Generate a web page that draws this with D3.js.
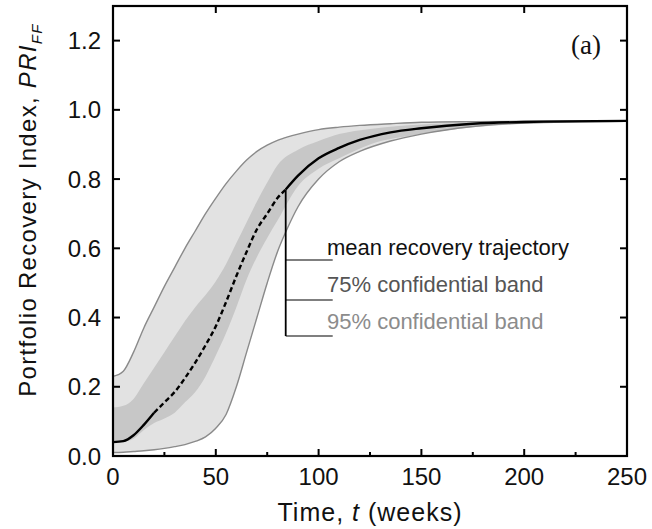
<!DOCTYPE html>
<html><head>
<meta charset="utf-8">
<script src="https://d3js.org/d3.v7.min.js"></script>
<style>
  body { margin: 0; background: white; }
  text { font-family: "Liberation Sans", Arial, sans-serif; }
</style>
</head><body>
<svg id="chart" width="652" height="529"></svg>
<script>
// time points (weeks) for each curve
const tMean  = [0, 5, 10, 15, 20, 25, 30, 35, 40, 45, 50, 55, 60, 65, 70, 75, 80, 84, 90, 100, 110, 120, 135, 150, 175, 200, 250];
const mean   = [0.04, 0.043, 0.06, 0.09, 0.125, 0.155, 0.185, 0.225, 0.27, 0.32, 0.375, 0.445, 0.52, 0.59, 0.655, 0.70, 0.745, 0.77, 0.81, 0.86, 0.89, 0.913, 0.935, 0.947, 0.96, 0.965, 0.968];

const t95     = [0, 5, 10, 15, 20, 25, 30, 35, 40, 45, 50, 55, 60, 65, 70, 75, 80, 85, 90, 100, 110, 120, 135, 150, 175, 200, 250];
const upper95 = [0.23, 0.245, 0.30, 0.37, 0.43, 0.49, 0.545, 0.60, 0.65, 0.70, 0.745, 0.787, 0.823, 0.855, 0.88, 0.898, 0.912, 0.922, 0.93, 0.943, 0.95, 0.955, 0.96, 0.964, 0.966, 0.967, 0.968];
const lower95 = [0.01, 0.011, 0.013, 0.015, 0.018, 0.022, 0.027, 0.033, 0.042, 0.055, 0.08, 0.12, 0.20, 0.30, 0.40, 0.50, 0.59, 0.66, 0.72, 0.80, 0.85, 0.88, 0.91, 0.93, 0.952, 0.962, 0.967];

const t75     = [0, 5, 10, 15, 20, 25, 30, 35, 40, 45, 50, 55, 60, 65, 70, 75, 80, 90, 100, 110, 125, 150, 175, 200, 250];
const upper75 = [0.14, 0.145, 0.165, 0.21, 0.255, 0.30, 0.345, 0.39, 0.43, 0.465, 0.505, 0.555, 0.615, 0.675, 0.735, 0.79, 0.84, 0.885, 0.91, 0.93, 0.945, 0.958, 0.963, 0.966, 0.968];
const lower75 = [0.04, 0.042, 0.05, 0.075, 0.095, 0.108, 0.125, 0.155, 0.185, 0.23, 0.29, 0.355, 0.43, 0.51, 0.575, 0.63, 0.68, 0.78, 0.83, 0.86, 0.90, 0.93, 0.95, 0.96, 0.967];

const xMajor = [0, 50, 100, 150, 200, 250];
const xMinor = [25, 75, 125, 175, 225];
const yMajor = [0, 0.2, 0.4, 0.6, 0.8, 1.0, 1.2];
const legendLabels = ["mean recovery trajectory", "75% confidential band", "95% confidential band"];

let svg = d3.select("svg#chart");
const pLeft = 113, pRight = 627, pTop = 6, pBottom = 456;

let x = d3.scaleLinear().domain([0, 250]).range([pLeft, pRight]);
let y = d3.scaleLinear().domain([0, 1.3]).range([pBottom, pTop]);

let band95 = t95.map((t, i) => ({t: t, lo: lower95[i], hi: upper95[i]}));
let band75 = t75.map((t, i) => ({t: t, lo: lower75[i], hi: upper75[i]}));
let meanData = tMean.map((t, i) => ({t: t, v: mean[i]}));

svg.append("clipPath").attr("id", "clip")
  .append("rect").attr("x", pLeft).attr("y", pTop).attr("width", pRight - pLeft).attr("height", pBottom - pTop);

let plot = svg.append("g").attr("clip-path", "url(#clip)");

let area = d3.area().curve(d3.curveMonotoneX)
  .x(d => x(d.t)).y0(d => y(d.lo)).y1(d => y(d.hi));
let lineHi = d3.line().curve(d3.curveMonotoneX).x(d => x(d.t)).y(d => y(d.hi));
let lineLo = d3.line().curve(d3.curveMonotoneX).x(d => x(d.t)).y(d => y(d.lo));

plot.append("path").datum(band95).attr("d", area).attr("fill", "#e2e2e2");
plot.append("path").datum(band75).attr("d", area).attr("fill", "#c7c7c7");
plot.append("path").datum(band95).attr("d", lineHi).attr("fill", "none").attr("stroke", "#8a8a8a").attr("stroke-width", 1.4);
plot.append("path").datum(band95).attr("d", lineLo).attr("fill", "none").attr("stroke", "#8a8a8a").attr("stroke-width", 1.4);

// mean line: solid, dashed, solid
let meanLine = d3.line().curve(d3.curveMonotoneX).x(d => x(d.t)).y(d => y(d.v));
let segs = [[0, 20, null], [20, 84, "5,3"], [84, 250, null]];
segs.forEach(s => {
  plot.append("path").datum(meanData.filter(d => d.t >= s[0] && d.t <= s[1]))
    .attr("d", meanLine)
    .attr("fill", "none")
    .attr("stroke", "black")
    .attr("stroke-width", 2.4)
    .attr("stroke-dasharray", s[2]);
});

// annotation bracket
const tAnn = 84;
const annX = x(tAnn);
const annYs = [260, 300, 336];
svg.append("line").attr("x1", annX).attr("x2", annX)
  .attr("y1", y(mean[tMean.indexOf(tAnn)])).attr("y2", annYs[2])
  .attr("stroke", "black").attr("stroke-width", 1.8);
annYs.forEach(yy => {
  svg.append("line").attr("x1", annX).attr("x2", annX + 47)
    .attr("y1", yy).attr("y2", yy)
    .attr("stroke", "black").attr("stroke-width", 1.2);
});
const legendColors = ["#111", "#555", "#8c8c8c"];
const legendBase = [255, 292, 329];
legendLabels.forEach((l, i) => {
  svg.append("text").attr("x", 327).attr("y", legendBase[i])
    .attr("font-size", 22).attr("fill", legendColors[i]).text(l);
});

// frame
svg.append("rect").attr("x", pLeft).attr("y", pTop).attr("width", pRight - pLeft).attr("height", pBottom - pTop)
  .attr("fill", "none").attr("stroke", "black").attr("stroke-width", 2.2);

// ticks (inward)
let ticks = svg.append("g").attr("stroke", "black").attr("stroke-width", 2);
xMajor.forEach(v => {
  ticks.append("line").attr("x1", x(v)).attr("x2", x(v)).attr("y1", pBottom).attr("y2", pBottom - 7);
  ticks.append("line").attr("x1", x(v)).attr("x2", x(v)).attr("y1", pTop).attr("y2", pTop + 7);
});
xMinor.forEach(v => {
  ticks.append("line").attr("x1", x(v)).attr("x2", x(v)).attr("y1", pBottom).attr("y2", pBottom - 4);
});
yMajor.forEach(v => {
  ticks.append("line").attr("x1", pLeft).attr("x2", pLeft + 7).attr("y1", y(v)).attr("y2", y(v));
  ticks.append("line").attr("x1", pRight).attr("x2", pRight - 7).attr("y1", y(v)).attr("y2", y(v));
});

// tick labels
xMajor.forEach(v => {
  svg.append("text").attr("x", x(v)).attr("y", 485).attr("text-anchor", "middle")
    .attr("font-size", 24).attr("fill", "#111").text(v);
});
yMajor.forEach(v => {
  svg.append("text").attr("x", 101).attr("y", y(v) + 8.5).attr("text-anchor", "end")
    .attr("font-size", 24).attr("fill", "#111").text(v.toFixed(1));
});

// axis titles
let xt = svg.append("text").attr("x", 370).attr("y", 521).attr("text-anchor", "middle")
  .attr("font-size", 25).attr("letter-spacing", 1).attr("fill", "#111");
xt.append("tspan").text("Time, ");
xt.append("tspan").attr("font-style", "italic").text("t");
xt.append("tspan").text(" (weeks)");

let yt = svg.append("text").attr("transform", "translate(36,210) rotate(-90)")
  .attr("text-anchor", "middle").attr("font-size", 24).attr("letter-spacing", 1.3).attr("fill", "#111");
yt.append("tspan").text("Portfolio Recovery Index, ");
yt.append("tspan").attr("font-style", "italic").text("PRI");
yt.append("tspan").attr("font-style", "italic").attr("font-size", 15).attr("dy", 6).text("FF");

svg.append("text").attr("x", 601).attr("y", 54).attr("text-anchor", "end")
  .style("font-family", "'Liberation Serif', 'Times New Roman', serif")
  .attr("font-size", 27).attr("fill", "#111").text("(a)");
</script>
</body></html>
